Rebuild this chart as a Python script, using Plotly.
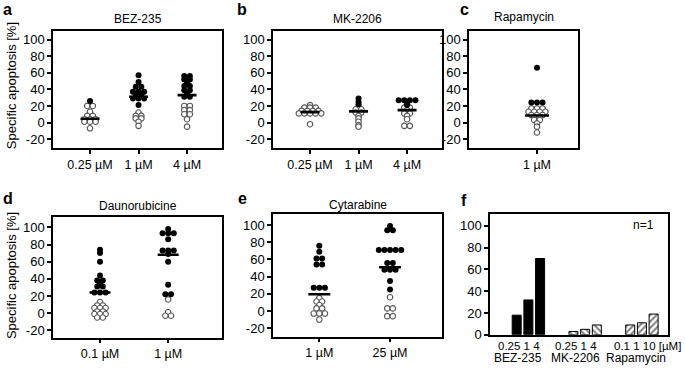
import plotly.graph_objects as go
import numpy as np

W, H = 685, 379
FONT = "Liberation Sans, Arial, sans-serif"

# ---------------- data ----------------
# a: BEZ-235
a_cats = ["0.25 µM", "1 µM", "4 µM"]
a_filled = [[26],
            [57, 49, 43, 43, 37, 37, 37, 34, 34, 29, 29, 29, 21],
            [56, 56, 52, 52, 48, 44, 44, 39, 39, 35, 31, 31]]
a_open = [[20, 20, 13, 8, 8, 4, 4, 4, 1, 1, 1, -7],
          [12, 8, 8, 5, 5, 1, -4],
          [20, 20, 15, 15, 10, 10, 4, -5]]
a_median = [4.5, 31, 33]

# b: MK-2206
b_cats = ["0.25 µM", "1 µM", "4 µM"]
b_filled = [[], [29, 25, 22], [27, 27, 27, 27, 24, 21]]
b_open = [[21, 18, 18, 18, 14, 14, 14, 14, 11, 11, 11, 11, 11, -2],
          [19, 16, 16, 12, 12, 8, 5, 1, -3, -5],
          [18, 18, 15, 11, 11, 8, 4, -4, -4]]
b_median = [12.5, 13.5, 15]

# c: Rapamycin
c_cats = ["1 µM"]
c_filled = [[66, 24, 24, 24]]
c_open = [[17, 17, 17, 13, 13, 13, 13, 9, 9, 9, 7, 7, 3, 3, -1, -5, -12]]
c_median = [8.5]

# d: Daunorubicine
d_cats = ["0.1 µM", "1 µM"]
d_filled = [[74, 70, 60, 44, 38, 38, 35, 31, 31, 24, 24, 24],
            [98, 93, 93, 93, 86, 73, 73, 73, 69, 60, 33, 22, 22]]
d_open = [[13, 9, 9, 6, 6, 6, 2, 2, -1, -1, -1, -5, -5],
          [16, 1, -3, -3]]
d_median = [24, 68]

# e: Cytarabine
e_cats = ["1 µM", "25 µM"]
e_filled = [[76, 69, 61, 61, 54, 54, 27, 27, 27],
            [99, 94, 94, 71, 71, 71, 71, 71, 56, 56, 48, 48, 48, 35, 25]]
e_open = [[15, 11, 11, 7, 3, 3, -3, -3, -3, -10],
          [16, 3, 3, -6, -6]]
e_median = [19.5, 51]

# f: n=1 bars
f_groups = ["BEZ-235", "MK-2206", "Rapamycin"]
f_conc_labels = ["0.25 1 4", "0.25 1 4", "0.1 1 10 [µM]"]
f_values = [[18, 32, 70], [3, 5, 9], [9, 11, 19]]

y_ticks = [-20, 0, 20, 40, 60, 80, 100]
y_ticktext = ["-20", "0", "20", "40", "60", "80", "100"]
f_ticks = [0, 20, 40, 60, 80, 100]

# ---------------- helpers ----------------
def pxx(x):
    return x / W

def pxy(y):
    return 1 - y / H

fig = go.Figure()
layout = {}
annotations = []

def axis_common():
    return dict(showline=True, mirror=True, linecolor="black", linewidth=1.5,
                ticks="outside", ticklen=4, tickwidth=1.5, tickcolor="black",
                showgrid=False, zeroline=False, fixedrange=True,
                tickfont=dict(family=FONT, size=12.5, color="black"))

def dot_panel(k, cats, filled, opened, med, box, xr, yr, dot_px=5.6, hw_px=9.5):
    x0, y0, x1, y1 = box
    xname = "x" if k == 1 else f"x{k}"
    yname = "y" if k == 1 else f"y{k}"
    units_per_px = (xr[1] - xr[0]) / (x1 - x0)
    dx = dot_px * units_per_px
    hw = hw_px * units_per_px
    fx, fy, ox, oy, mx, my = [], [], [], [], [], []
    for i in range(len(cats)):
        pts = [(v, "f") for v in filled[i]] + [(v, "o") for v in opened[i]]
        rows = {}
        for v, t in pts:
            rows.setdefault(v, []).append(t)
        for v, ts in rows.items():
            n = len(ts)
            for j, t in enumerate(sorted(ts)):
                xo = i + (j - (n - 1) / 2) * dx
                if t == "f":
                    fx.append(xo); fy.append(v)
                else:
                    ox.append(xo); oy.append(v)
        mx += [i - hw, i + hw, None]
        my += [med[i], med[i], None]
    fig.add_trace(go.Scatter(x=ox, y=oy, mode="markers", xaxis=xname, yaxis=yname,
                             marker=dict(size=5.5, color="white",
                                         line=dict(color="#555555", width=1.1)),
                             showlegend=False, hoverinfo="skip"))
    fig.add_trace(go.Scatter(x=fx, y=fy, mode="markers", xaxis=xname, yaxis=yname,
                             marker=dict(size=6, color="black", line=dict(width=0)),
                             showlegend=False, hoverinfo="skip"))
    fig.add_trace(go.Scatter(x=mx, y=my, mode="lines", xaxis=xname, yaxis=yname,
                             line=dict(color="black", width=2.6),
                             showlegend=False, hoverinfo="skip"))
    xa = axis_common()
    xa.update(domain=[pxx(x0), pxx(x1)], range=xr, tickvals=list(range(len(cats))),
              ticktext=cats, anchor=yname)
    ya = axis_common()
    ya.update(domain=[pxy(y1), pxy(y0)], range=yr, tickvals=y_ticks, ticktext=y_ticktext,
              anchor=xname, tickfont=dict(family=FONT, size=13, color="black"))
    layout["xaxis" if k == 1 else f"xaxis{k}"] = xa
    layout["yaxis" if k == 1 else f"yaxis{k}"] = ya

dot_panel(1, a_cats, a_filled, a_open, a_median, (53, 32, 222, 151), [-0.763, 2.72], [-30.5, 110])
dot_panel(2, b_cats, b_filled, b_open, b_median, (273, 32, 442, 151), [-0.763, 2.72], [-30.5, 110])
dot_panel(3, c_cats, c_filled, c_open, c_median, (469, 32, 578, 151), [-1.40, 0.845], [-30.5, 110], hw_px=12)
dot_panel(4, d_cats, d_filled, d_open, d_median, (53, 222, 222, 345), [-0.69, 1.79], [-28.6, 111.7], hw_px=10.5)
dot_panel(5, e_cats, e_filled, e_open, e_median, (273, 219, 442, 344), [-0.655, 1.735], [-30, 112.5], hw_px=11)

# ---------------- panel f ----------------
group_gap = 4.85
patterns = [None, "\\", "/"]
for g, vals in enumerate(f_values):
    xs = [g * group_gap + i for i in range(len(vals))]
    if patterns[g] is None:
        marker = dict(color="black", line=dict(color="black", width=1))
    else:
        marker = dict(color="white", line=dict(color="black", width=1),
                      pattern=dict(shape=patterns[g], fgcolor="black", bgcolor="white",
                                   size=4.5, solidity=0.45))
    fig.add_trace(go.Bar(x=xs, y=vals, width=0.77, marker=marker, xaxis="x6", yaxis="y6",
                         showlegend=False, hoverinfo="skip"))

fx0, fy0, fx1, fy1 = 490, 219, 668, 342
xa = axis_common()
xa.update(domain=[pxx(fx0), pxx(fx1)], range=[-2.28, 12.93], showticklabels=False,
          ticks="", anchor="y6")
ya = axis_common()
ya.update(domain=[pxy(fy1), pxy(fy0)], range=[0, 110.5], tickvals=f_ticks,
          ticktext=[str(t) for t in f_ticks], anchor="x6",
          tickfont=dict(family=FONT, size=13, color="black"))
layout["xaxis6"] = xa
layout["yaxis6"] = ya

conc_x = [519, 576, 683]
conc_anchor = ["center", "center", "right"]
group_x = [518, 575, 636]
for g in range(len(f_groups)):
    annotations.append(dict(x=pxx(conc_x[g]), y=pxy(353), xref="paper", yref="paper",
                            text=f_conc_labels[g], showarrow=False,
                            font=dict(family=FONT, size=11.5, color="black"),
                            xanchor=conc_anchor[g], yanchor="middle"))
    annotations.append(dict(x=pxx(group_x[g]), y=pxy(366), xref="paper", yref="paper",
                            text=f_groups[g], showarrow=False,
                            font=dict(family=FONT, size=12, color="black"),
                            xanchor="center", yanchor="middle"))
annotations.append(dict(x=pxx(643), y=pxy(230), xref="paper", yref="paper", text="n=1",
                        showarrow=False, font=dict(family=FONT, size=12, color="black"),
                        xanchor="center", yanchor="middle"))

# ---------------- titles, letters ----------------
titles = [("BEZ-235", 137.5, 19), ("MK-2206", 357.5, 19), ("Rapamycin", 523.5, 17),
          ("Daunorubicine", 137.5, 210), ("Cytarabine", 357.5, 209)]
for t, x, y in titles:
    annotations.append(dict(x=pxx(x), y=pxy(y), xref="paper", yref="paper", text=t,
                            showarrow=False, font=dict(family=FONT, size=12, color="black"),
                            xanchor="center", yanchor="middle"))
letters = [("a", 8, 10), ("b", 242, 10), ("c", 464, 10), ("d", 8, 203), ("e", 242, 203), ("f", 464, 205)]
for t, x, y in letters:
    annotations.append(dict(x=pxx(x), y=pxy(y), xref="paper", yref="paper", text=f"<b>{t}</b>",
                            showarrow=False, font=dict(family=FONT, size=16, color="black"),
                            xanchor="center", yanchor="middle"))
for yc in (88, 282):
    annotations.append(dict(x=pxx(11), y=pxy(yc), xref="paper", yref="paper",
                            text="Specific apoptosis [%]", textangle=-90, showarrow=False,
                            font=dict(family=FONT, size=13, color="black"),
                            xanchor="center", yanchor="middle"))

fig.update_layout(width=W, height=H, margin=dict(l=0, r=0, t=0, b=0),
                  paper_bgcolor="white", plot_bgcolor="white", barmode="overlay",
                  annotations=annotations, **layout)

fig.write_html("out.html", config={"displayModeBar": False},
               post_script="document.body.style.margin='0px';document.body.style.padding='0px';document.body.style.overflow='hidden';")
